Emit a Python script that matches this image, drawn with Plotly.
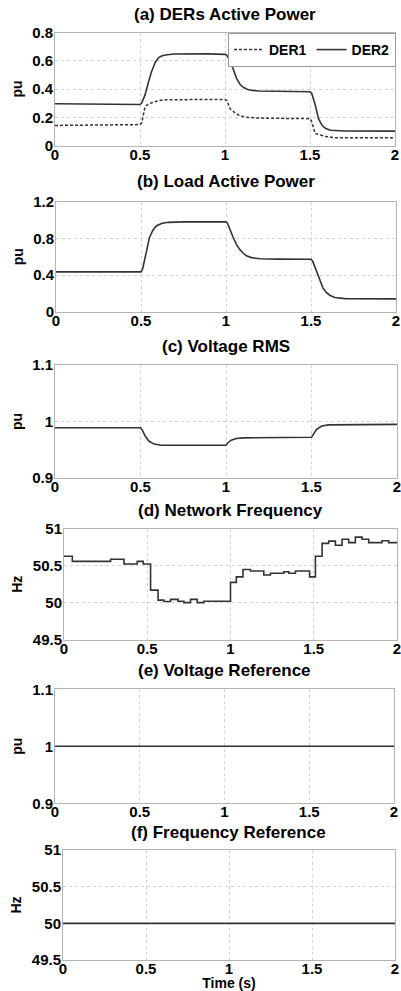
import plotly.graph_objects as go

W, H = 401, 991

# ---------------- data ----------------
# (a) DERs active power (pu)
t_der1 = [0, 0.25, 0.5, 0.51, 0.52, 0.53, 0.55, 0.58, 0.61, 0.65, 0.8, 0.9, 1.0,
          1.01, 1.02, 1.03, 1.05, 1.08, 1.12, 1.2, 1.35, 1.5,
          1.51, 1.52, 1.53, 1.56, 1.6, 1.65, 1.8, 2.0]
der1_p = [0.142, 0.145, 0.148, 0.16, 0.22, 0.275, 0.295, 0.305, 0.318, 0.324, 0.326, 0.327, 0.326,
          0.32, 0.29, 0.26, 0.24, 0.215, 0.20, 0.194, 0.192, 0.19,
          0.17, 0.12, 0.085, 0.075, 0.062, 0.055, 0.054, 0.054]
t_der2 = [0, 0.25, 0.5, 0.51, 0.53, 0.55, 0.57, 0.59, 0.61, 0.63, 0.66, 0.7, 0.8, 0.9, 1.0,
          1.01, 1.03, 1.05, 1.07, 1.09, 1.11, 1.13, 1.16, 1.2, 1.3, 1.4, 1.5,
          1.51, 1.52, 1.53, 1.55, 1.57, 1.59, 1.62, 1.7, 2.0]
der2_p = [0.296, 0.293, 0.290, 0.30, 0.36, 0.45, 0.53, 0.59, 0.622, 0.635, 0.643, 0.648, 0.650, 0.649, 0.645,
          0.64, 0.60, 0.53, 0.47, 0.43, 0.41, 0.398, 0.39, 0.386, 0.384, 0.382, 0.381,
          0.37, 0.33, 0.29, 0.19, 0.145, 0.122, 0.108, 0.103, 0.102]

# (b) Load active power (pu)
t_load = [0, 0.5, 0.51, 0.52, 0.53, 0.54, 0.55, 0.57, 0.59, 0.62, 0.66, 0.75, 1.0,
          1.01, 1.02, 1.04, 1.06, 1.08, 1.10, 1.12, 1.15, 1.2, 1.3, 1.5,
          1.51, 1.52, 1.53, 1.54, 1.55, 1.57, 1.59, 1.61, 1.64, 1.7, 2.0]
load_p = [0.435, 0.435, 0.47, 0.56, 0.65, 0.74, 0.81, 0.89, 0.935, 0.962, 0.975, 0.98, 0.98,
          0.96, 0.91, 0.82, 0.74, 0.68, 0.64, 0.61, 0.59, 0.578, 0.574, 0.572,
          0.55, 0.50, 0.45, 0.39, 0.34, 0.26, 0.21, 0.18, 0.155, 0.143, 0.14]

# (c) Voltage RMS (pu)
t_vrms = [0, 0.5, 0.51, 0.53, 0.55, 0.58, 0.62, 1.0, 1.01, 1.03, 1.06, 1.1, 1.5,
          1.51, 1.53, 1.56, 1.6, 2.0]
v_rms = [0.989, 0.989, 0.985, 0.973, 0.965, 0.960, 0.958, 0.958, 0.962, 0.967, 0.970, 0.971, 0.972,
         0.976, 0.986, 0.992, 0.994, 0.995]

# (d) Network frequency (Hz), stepwise
t_freq = [0, 0.05, 0.28, 0.36, 0.44, 0.476, 0.52, 0.565, 0.60, 0.64, 0.685, 0.72, 0.76, 0.80, 0.84,
          1.0, 1.035, 1.075, 1.12, 1.20, 1.24, 1.32, 1.35, 1.39, 1.475, 1.51, 1.55, 1.59, 1.63,
          1.67, 1.71, 1.75, 1.79, 1.83, 1.91, 1.95, 2.0]
freq = [50.63, 50.56, 50.59, 50.525, 50.56, 50.525, 50.17, 50.035, 50.015, 50.045, 50.02, 50.0,
        50.045, 50.0, 50.02, 50.275, 50.35, 50.45, 50.43, 50.375, 50.40, 50.42, 50.40, 50.43,
        50.35, 50.63, 50.805, 50.835, 50.78, 50.86, 50.815, 50.89, 50.86, 50.815, 50.84,
        50.815, 50.815]

# (e) Voltage reference, (f) Frequency reference
t_ref = [0, 2]
v_ref = [1.0, 1.0]
f_ref = [50.0, 50.0]

panel_titles = ["(a) DERs Active Power", "(b) Load Active Power", "(c) Voltage RMS",
                "(d) Network Frequency", "(e) Voltage Reference", "(f) Frequency Reference"]
y_titles = ["pu", "pu", "pu", "Hz", "pu", "Hz"]
y_ranges = [[0, 0.8], [0, 1.2], [0.9, 1.1], [49.5, 51], [0.9, 1.1], [49.5, 51]]
y_dticks = [0.2, 0.4, 0.1, 0.5, 0.1, 0.5]
x_range = [0, 2]
x_dtick = 0.5
legend_names = ["DER1", "DER2"]
x_title = "Time (s)"

# ---------------- layout geometry (pixels) ----------------
x_px = [(55, 395), (56, 396), (55, 397), (64, 397), (55, 394), (63, 395)]
y_px = [(32.5, 145.5), (201.7, 311.7), (365, 478), (529, 639.5), (689.3, 803.3), (850, 960)]
title_y_px = [15, 181.7, 346.7, 511, 670.7, 832.3]

LINE = "#333333"
FONT = "Liberation Sans, Arial, sans-serif"

fig = go.Figure()

def ax(i):
    return ("x" if i == 0 else f"x{i+1}"), ("y" if i == 0 else f"y{i+1}")

xa, ya = ax(0)
fig.add_trace(go.Scatter(x=t_der1, y=der1_p, mode="lines", name=legend_names[0],
                         line=dict(color=LINE, width=1.5, dash="3px,2px"), xaxis=xa, yaxis=ya))
fig.add_trace(go.Scatter(x=t_der2, y=der2_p, mode="lines", name=legend_names[1],
                         line=dict(color=LINE, width=1.6), xaxis=xa, yaxis=ya))
series = [(t_load, load_p), (t_vrms, v_rms), (t_freq, freq), (t_ref, v_ref), (t_ref, f_ref)]
for k, (tx, vy) in enumerate(series, start=1):
    xa, ya = ax(k)
    fig.add_trace(go.Scatter(x=tx, y=vy, mode="lines", showlegend=False,
                             line=dict(color=LINE, width=1.6, shape="hv" if k == 3 else "linear"),
                             xaxis=xa, yaxis=ya))

layout = dict(
    width=W, height=H, margin=dict(l=0, r=0, t=0, b=0),
    paper_bgcolor="white", plot_bgcolor="white",
    font=dict(family=FONT, size=15, color="black", weight="bold"),
    showlegend=True,
    legend=dict(x=396 / W, y=1 - 33 / H, xanchor="right", yanchor="top",
                orientation="h", bgcolor="white", bordercolor="#9a9a9a", borderwidth=1,
                font=dict(family=FONT, size=14, color="black", weight="bold"),
                itemwidth=30, tracegroupgap=0),
)
annotations = []
for i in range(6):
    xk = "xaxis" if i == 0 else f"xaxis{i+1}"
    yk = "yaxis" if i == 0 else f"yaxis{i+1}"
    xl, xr = x_px[i]
    yt, yb = y_px[i]
    xname, yname = ax(i)
    layout[xk] = dict(
        domain=[xl / W, xr / W], anchor=yname, range=x_range, dtick=x_dtick, tick0=0,
        showgrid=True, gridcolor="#d4d4d4", griddash="dot", gridwidth=1,
        showline=True, linecolor="#b4b4b4", linewidth=1, mirror=True,
        ticks="", zeroline=False, automargin=False, ticklabelstandoff=-5,
        ticklabeloverflow="allow",
        tickfont=dict(family=FONT, size=15, color="black", weight="bold"),
    )
    layout[yk] = dict(
        domain=[1 - yb / H, 1 - yt / H], anchor=xname, range=y_ranges[i], dtick=y_dticks[i],
        tick0=y_ranges[i][0],
        showgrid=True, gridcolor="#d4d4d4", griddash="dot", gridwidth=1,
        showline=True, linecolor="#b4b4b4", linewidth=1, mirror=True,
        ticks="", zeroline=False, automargin=False, ticklabeloverflow="allow",
        ticklabelstandoff=-2,
        tickfont=dict(family=FONT, size=15, color="black", weight="bold"),
        title=dict(text=y_titles[i], standoff=6,
                   font=dict(family=FONT, size=14, color="black", weight="bold")),
    )
    annotations.append(dict(
        text=panel_titles[i], xref="paper", yref="paper",
        x=(xl + xr) / 2 / W, y=1 - title_y_px[i] / H, xanchor="center", yanchor="middle",
        showarrow=False, font=dict(family=FONT, size=17, color="black", weight="bold")))

layout["xaxis6"]["title"] = dict(text=x_title, standoff=0,
                                 font=dict(family=FONT, size=14, color="black", weight="bold"))
layout["annotations"] = annotations
fig.update_layout(**layout)

fig.write_html("out.html", config={"displayModeBar": False},
               post_script="document.body.style.margin='0';")
